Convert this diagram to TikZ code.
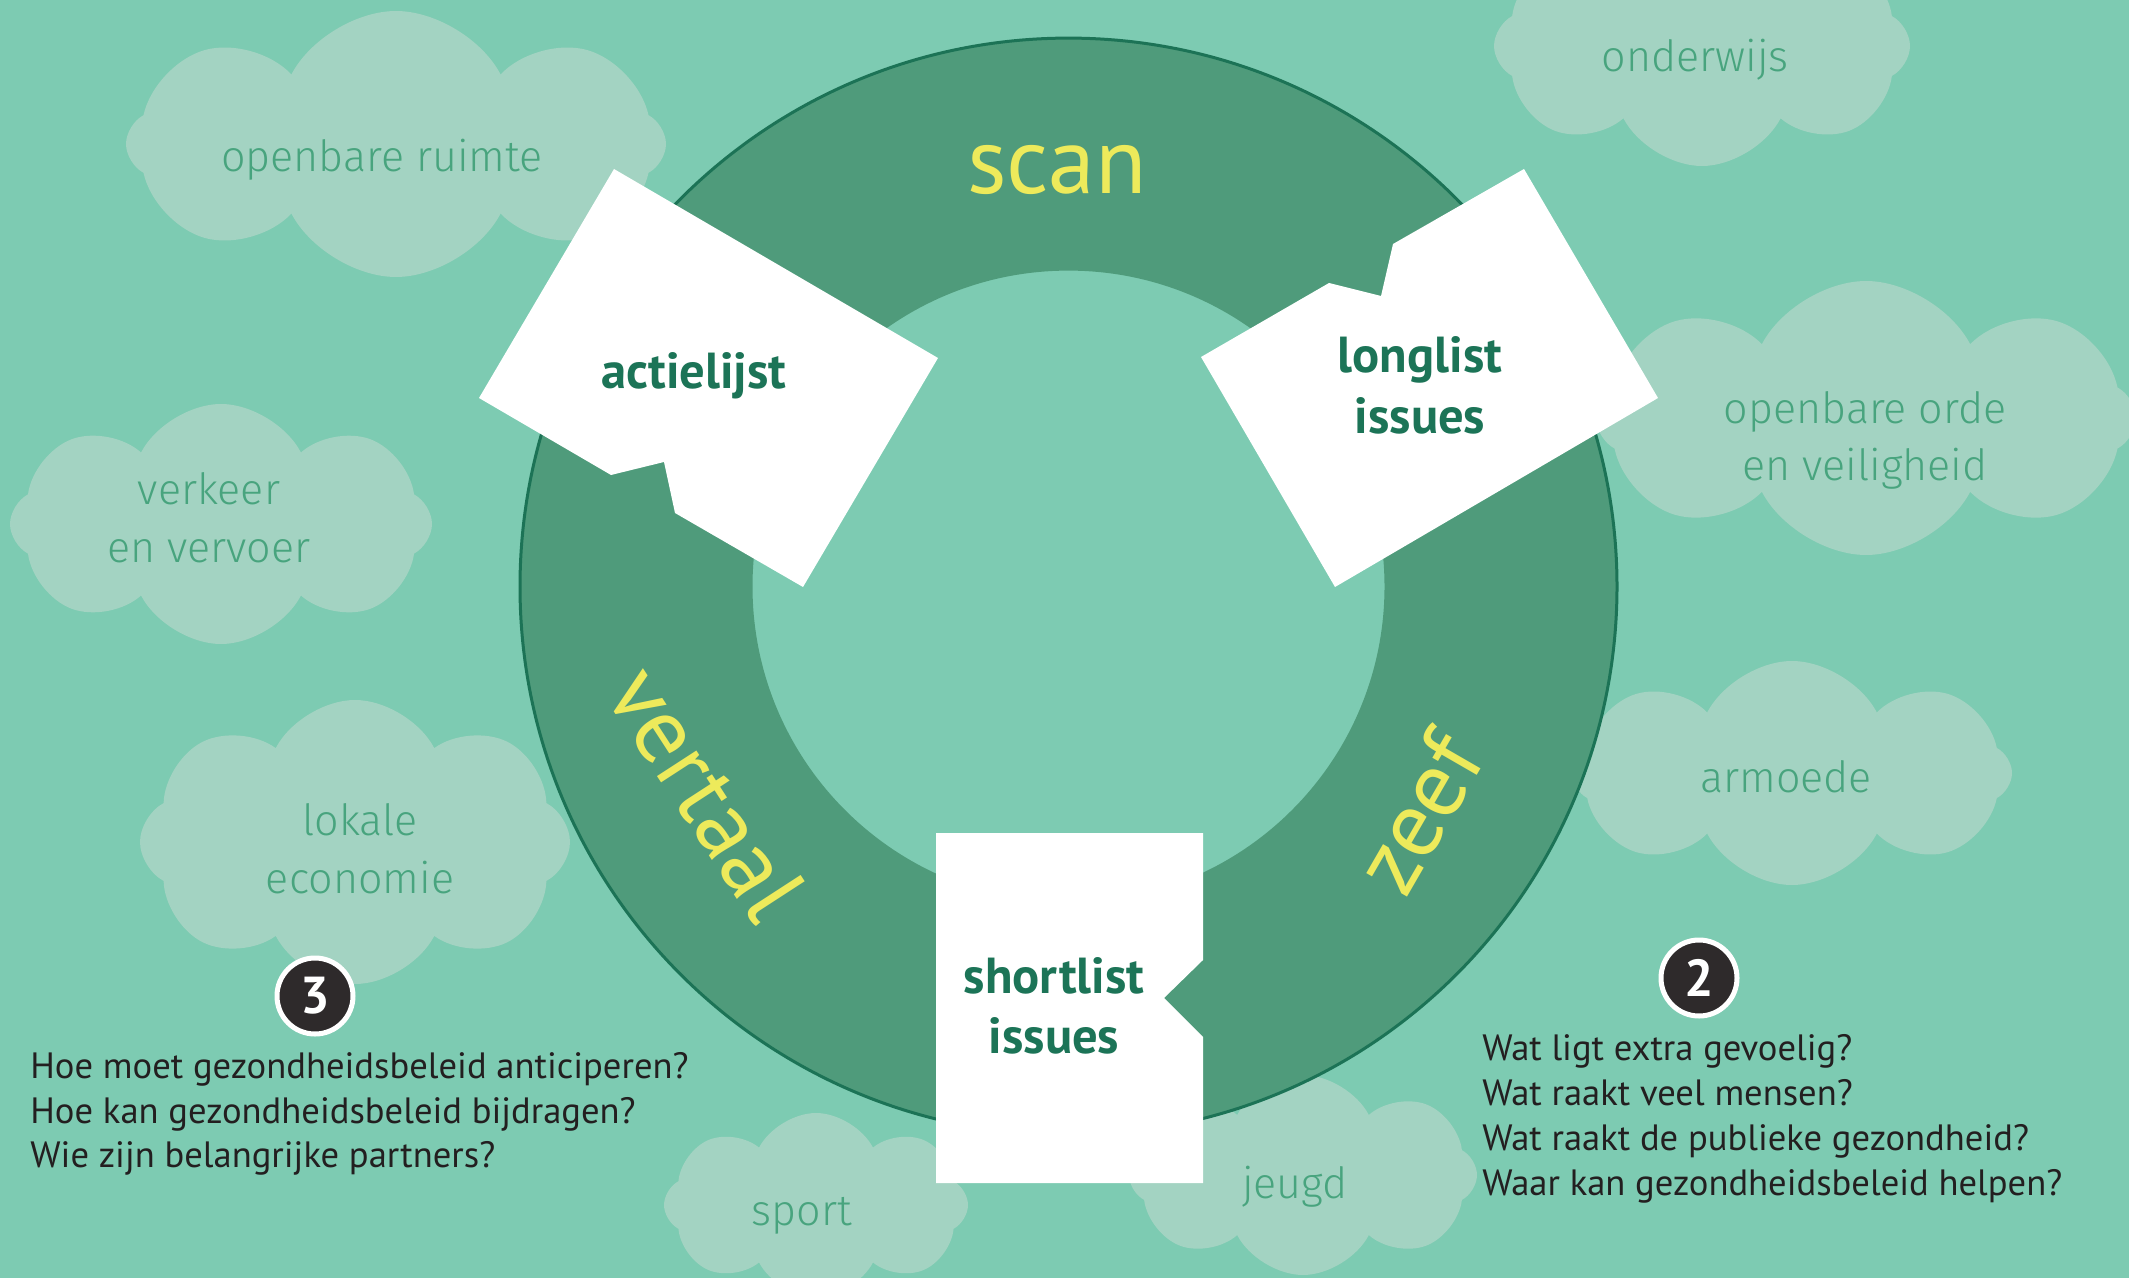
\documentclass[tikz,border=0pt]{standalone}
\usepackage{fontspec}
\setmainfont{PT Sans}
\newfontfamily\lightfont{Fira Sans}[UprightFont={* Light}]
\usetikzlibrary{shapes.symbols}
\definecolor{bg}{HTML}{7DCBB2}
\definecolor{ringc}{HTML}{4F9B7B}
\definecolor{ringedge}{HTML}{1C7356}
\definecolor{cloudc}{HTML}{A3D3C2}
\definecolor{cloudtxt}{HTML}{48A47E}
\definecolor{darkg}{HTML}{1C7457}
\definecolor{yel}{HTML}{EDEA5B}
\definecolor{ink}{HTML}{231F20}
\definecolor{badgec}{HTML}{2E2A2B}
\begin{document}
\begin{tikzpicture}[x=0.5pt,y=-0.5pt,
  cloudbox/.style={cloud, cloud puffs=8, cloud puff arc=125, cloud ignores aspect, fill=cloudc, inner sep=0pt, outer sep=0pt},
  cloudlabel/.style={text=cloudtxt, font=\lightfont\fontsize{21.5}{28}\selectfont, anchor=base, inner sep=0pt},
  whitelabel/.style={text=darkg, font=\bfseries\fontsize{25.3}{30}\selectfont, anchor=base, inner sep=0pt},
  phase/.style={text=yel, font=\fontsize{47}{52}\selectfont, inner sep=0pt},
  question/.style={text=ink, font=\fontsize{18.3}{22}\selectfont, anchor=base west, inner sep=0pt},
  badge/.style={circle, fill=badgec, draw=white, line width=2.5pt, minimum size=38pt, inner sep=0pt, text=white, font=\bfseries\fontsize{26}{26}\selectfont},
  card/.style={fill=white}
]
\useasboundingbox (0,0) rectangle (2129,1278);
\clip (0,0) rectangle (2129,1278);
\fill[bg] (0,0) rectangle (2129,1278);

% clouds
\node[cloudbox, minimum width=270pt, minimum height=133pt] (c1) at (396,144) {};
\node[cloudbox, minimum width=208pt, minimum height=120pt] (c2) at (1702,46) {};
\node[cloudbox, minimum width=211pt, minimum height=120pt] (c3) at (221,524) {};
\node[cloudbox, minimum width=270pt, minimum height=137pt] (c4) at (1866,418) {};
\node[cloudbox, minimum width=220pt, minimum height=112pt] (c5) at (1792,773) {};
\node[cloudbox, minimum width=215pt, minimum height=142pt] (c6) at (355,842) {};
\node[cloudbox, minimum width=152pt, minimum height=92pt] (c7) at (816,1205) {};
\node[cloudbox, minimum width=174pt, minimum height=100pt] (c8) at (1303,1175) {};

\node[cloudlabel] (t1) at (382,172) {openbare ruimte};
\node[cloudlabel] (t2) at (1695,72) {onderwijs};
\node[cloudlabel] (t3a) at (209,504) {verkeer};
\node[cloudlabel] (t3b) at (209,562) {en vervoer};
\node[cloudlabel] (t4a) at (1865,423) {openbare orde};
\node[cloudlabel] (t4b) at (1865,480) {en veiligheid};
\node[cloudlabel] (t5) at (1786,792) {armoede};
\node[cloudlabel] (t6a) at (360,835) {lokale};
\node[cloudlabel] (t6b) at (360,893) {economie};
\node[cloudlabel] (t7) at (802,1225) {sport};
\node[cloudlabel] (t8) at (1295,1198) {jeugd};

% ring
\coordinate (C) at (1068.5,586.6);
\fill[ringc, even odd rule] (C) circle[radius=274.25pt] (C) circle[radius=158pt];
\draw[ringedge, line width=1.5pt] (C) circle[radius=274.25pt];

% cards
\fill[card] (614,169) -- (938,358) -- (803,587) -- (675,513) -- (664,462) -- (611,475) -- (479,398) -- cycle;
\fill[card] (1524,169) -- (1658,398) -- (1335,587) -- (1201,357) -- (1329,283) -- (1381,296) -- (1393,244) -- cycle;
\fill[card] (936,833) -- (1203,833) -- (1203,960) -- (1164,998) -- (1203,1037) -- (1203,1183) -- (936,1183) -- cycle;

\node[whitelabel] (l1) at (694,388) {actielijst};
\node[whitelabel] (l2a) at (1420,372) {longlist};
\node[whitelabel] (l2b) at (1420,433) {issues};
\node[whitelabel] (l3a) at (1054,993) {shortlist};
\node[whitelabel] (l3b) at (1054,1053) {issues};

% phases
\node[phase, anchor=base] (p1) at (1057,194) {scan};
\node[phase, rotate=-57] (p2) at (707,793) {vertaal};
\node[phase, rotate=60] (p3) at (1418,813) {zeef};

% badges and questions
\node[badge] (b3) at (315,996) {3};
\node[badge] (b2) at (1699,978) {2};
\node[question] (q3a) at (30,1078) {Hoe moet gezondheidsbeleid anticiperen?};
\node[question] (q3b) at (30,1123) {Hoe kan gezondheidsbeleid bijdragen?};
\node[question] (q3c) at (30,1167) {Wie zijn belangrijke partners?};
\node[question] (q2a) at (1482,1060) {Wat ligt extra gevoelig?};
\node[question] (q2b) at (1482,1105) {Wat raakt veel mensen?};
\node[question] (q2c) at (1482,1150) {Wat raakt de publieke gezondheid?};
\node[question] (q2d) at (1482,1195) {Waar kan gezondheidsbeleid helpen?};
\end{tikzpicture}
\end{document}
